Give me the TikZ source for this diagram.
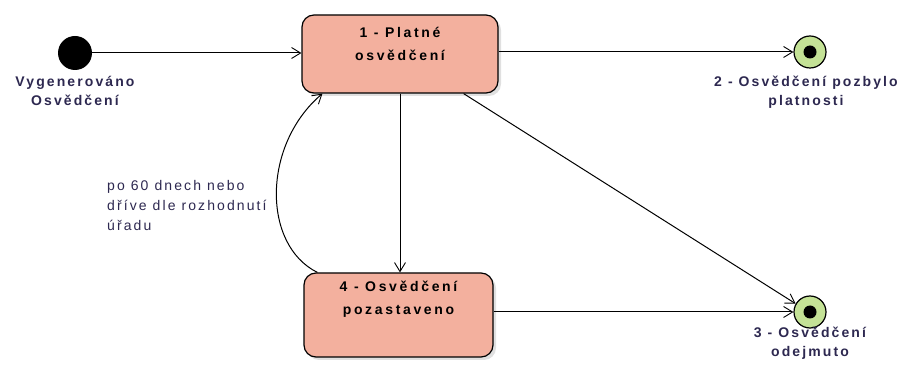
\documentclass[tikz,border=0pt]{standalone}
\usepackage{fontspec}
\setmainfont{Liberation Sans}
\newfontfamily\boxfont[LetterSpace=19]{Liberation Sans}
\newfontfamily\lblfont[LetterSpace=15]{Liberation Sans}
\newfontfamily\notefont[LetterSpace=15]{Liberation Sans}
\usetikzlibrary{arrows.meta,calc}
\definecolor{salmon}{RGB}{243,176,158}
\definecolor{endgreen}{RGB}{196,226,150}
\definecolor{lbltext}{RGB}{45,40,80}
\tikzset{
  statebox/.style={draw=black, line width=1.2pt, fill=salmon, rounded corners=12pt, minimum width=#1, inner sep=0pt},
  boxtext/.style={font=\boxfont\bfseries\fontsize{14}{23}\selectfont, align=center, text=black, inner sep=0pt},
  lbl/.style={font=\lblfont\bfseries\fontsize{14}{19.5}\selectfont, align=center, text=lbltext, inner sep=0pt},
  notetext/.style={font=\notefont\fontsize{14}{20}\selectfont, align=left, text=lbltext, inner sep=0pt},
  conn/.style={draw=black, line width=1pt, -{Straight Barb[length=9pt,width=11pt,line width=0.9pt]}},
}
\begin{document}
\begin{tikzpicture}[x=1pt,y=-1pt]
\useasboundingbox (0,0) rectangle (911,371);
% shadows
\fill[black!12, rounded corners=12pt] (305,18) rectangle (501,96);
\fill[black!12, rounded corners=12pt] (307,276) rectangle (496,360);
% states
\node[statebox=196pt, minimum height=78pt] (b1) at (400,54) {};
\node[statebox=189pt, minimum height=84pt] (b4) at (398.5,315) {};
\node[boxtext] (t1) at (400,44) {1 - Platné\\osvědčení};
\node[boxtext] (t4) at (398.5,299) {4 - Osvědčení\\pozastaveno};
% start
\node[circle, fill=black, minimum size=34pt, inner sep=0pt] (s) at (75,53) {};
\node[lbl] (ls) at (75,91) {Vygenerováno\\Osvědčení};
% finals
\node[circle, draw=black, line width=1.2pt, fill=endgreen, minimum size=32pt, inner sep=0pt] (f2) at (810,52) {};
\node[circle, fill=black, minimum size=13pt, inner sep=0pt] (f2d) at (f2) {};
\node[lbl] (l2) at (806,92) {2 - Osvědčení pozbylo\\platnosti};
\node[circle, draw=black, line width=1.2pt, fill=endgreen, minimum size=32pt, inner sep=0pt] (f3) at (810,312) {};
\node[circle, fill=black, minimum size=13pt, inner sep=0pt] (f3d) at (f3) {};
\node[lbl] (l3) at (810,343) {3 - Osvědčení\\odejmuto};
% note
\node[notetext, anchor=west] (n) at (107,205) {po 60 dnech nebo\\dříve dle rozhodnutí\\úřadu};
% connectors
\draw[conn] (s.east) -- (s -| b1.west);
\draw[conn] (b1.east |- f2) -- (f2.west);
\draw[conn] (b1.south) -- (b1.south |- b4.north);
\draw[conn] ($(b1.south east)+(-35,0)$) -- (f3.150);
\draw[conn] (b4.east |- f3) -- (f3.west);
\draw[conn] ($(b4.north west)+(14,0)$) .. controls (262,245) and (262,145) .. ($(b1.south west)+(21,0)$);
\end{tikzpicture}
\end{document}
